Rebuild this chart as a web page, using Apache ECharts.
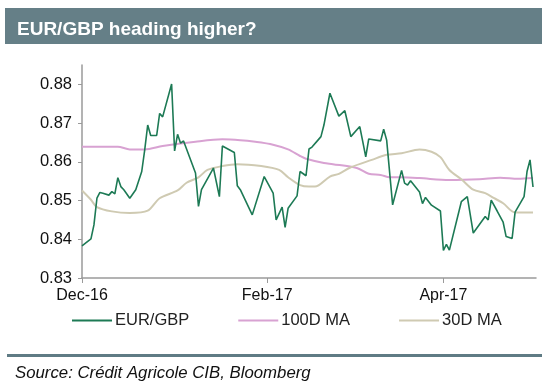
<!DOCTYPE html>
<html>
<head>
<meta charset="utf-8">
<script src="https://cdn.jsdelivr.net/npm/echarts@6/dist/echarts.min.js"></script>
<style>
html,body{margin:0;padding:0;background:#fff;}
#c{width:542px;height:389px;}
</style>
</head>
<body>
<div id="c"></div>
<script>
var titleText = 'EUR/GBP heading higher?';
var sourceText = 'Source: Crédit Agricole CIB, Bloomberg';
var seriesNames = ['EUR/GBP', '100D MA', '30D MA'];
var yTicks = [0.83, 0.84, 0.85, 0.86, 0.87, 0.88];
var xTickDates = ['2016-12-01', '2017-02-01', '2017-04-01'];
var xTickLabels = ['Dec-16', 'Feb-17', 'Apr-17'];

var eurgbpDates = ['2016-12-01','2016-12-04','2016-12-05','2016-12-06','2016-12-07','2016-12-08','2016-12-10','2016-12-11','2016-12-12','2016-12-13','2016-12-14','2016-12-15','2016-12-17','2016-12-19','2016-12-21','2016-12-22','2016-12-23','2016-12-24','2016-12-26','2016-12-27','2016-12-28','2016-12-31','2017-01-01','2017-01-02','2017-01-03','2017-01-04','2017-01-08','2017-01-09','2017-01-10','2017-01-14','2017-01-16','2017-01-17','2017-01-21','2017-01-22','2017-01-23','2017-01-27','2017-01-31','2017-02-03','2017-02-04','2017-02-06','2017-02-07','2017-02-08','2017-02-11','2017-02-12','2017-02-14','2017-02-15','2017-02-16','2017-02-18','2017-02-19','2017-02-20','2017-02-22','2017-02-25','2017-02-27','2017-03-01','2017-03-04','2017-03-05','2017-03-06','2017-03-07','2017-03-11','2017-03-12','2017-03-13','2017-03-15','2017-03-18','2017-03-19','2017-03-20','2017-03-21','2017-03-24','2017-03-25','2017-03-26','2017-03-28','2017-03-31','2017-04-01','2017-04-02','2017-04-03','2017-04-07','2017-04-09','2017-04-11','2017-04-15','2017-04-16','2017-04-17','2017-04-19','2017-04-21','2017-04-22','2017-04-24','2017-04-25','2017-04-28','2017-04-29','2017-04-30','2017-05-01'];
var eurgbpValues = [0.8383,0.8401,0.8437,0.8506,0.8521,0.8519,0.8514,0.8523,0.8517,0.8559,0.8536,0.8528,0.8506,0.8528,0.8575,0.8631,0.8695,0.8668,0.8668,0.8725,0.8716,0.8801,0.8628,0.8671,0.8648,0.8654,0.8571,0.8485,0.8528,0.8584,0.8510,0.8641,0.8624,0.8538,0.8528,0.8463,0.8562,0.8519,0.8450,0.8483,0.8431,0.8480,0.8512,0.8575,0.8564,0.8633,0.8638,0.8656,0.8665,0.8695,0.8777,0.8718,0.8732,0.8665,0.8691,0.8652,0.8613,0.8659,0.8654,0.8684,0.8656,0.8489,0.8578,0.8545,0.8540,0.8551,0.8522,0.8492,0.8508,0.8488,0.8473,0.8371,0.8387,0.8372,0.8497,0.8510,0.8416,0.8459,0.8450,0.8501,0.8473,0.8444,0.8407,0.8402,0.8470,0.8510,0.8575,0.8605,0.8535];

var ma100Dates = ['2016-12-01','2016-12-13','2016-12-17','2016-12-22','2016-12-28','2017-01-08','2017-01-17','2017-01-23','2017-01-28','2017-02-02','2017-02-08','2017-02-12','2017-02-14','2017-02-20','2017-02-23','2017-03-03','2017-03-07','2017-03-11','2017-03-14','2017-03-18','2017-03-24','2017-04-03','2017-04-13','2017-04-20','2017-04-26','2017-05-01'];
var ma100Values = [0.8639,0.8639,0.8632,0.8632,0.8641,0.8652,0.8658,0.8656,0.8652,0.8646,0.8632,0.8615,0.8608,0.8597,0.8594,0.8584,0.8569,0.8566,0.8560,0.8560,0.8558,0.8553,0.8555,0.8559,0.8556,0.8558];

var ma30Dates = ['2016-12-01','2016-12-04','2016-12-06','2016-12-11','2016-12-17','2016-12-23','2016-12-27','2017-01-02','2017-01-05','2017-01-09','2017-01-12','2017-01-17','2017-01-22','2017-01-30','2017-02-05','2017-02-08','2017-02-12','2017-02-15','2017-02-17','2017-02-22','2017-02-25','2017-03-01','2017-03-08','2017-03-13','2017-03-18','2017-03-24','2017-03-28','2017-03-31','2017-04-03','2017-04-07','2017-04-11','2017-04-15','2017-04-18','2017-04-21','2017-04-25','2017-05-01'];
var ma30Values = [0.8526,0.8502,0.8483,0.8472,0.8468,0.8474,0.8506,0.8526,0.8546,0.8560,0.8579,0.8589,0.8594,0.8589,0.8579,0.8560,0.8540,0.8536,0.8536,0.8562,0.8569,0.8586,0.8605,0.8618,0.8622,0.8632,0.8626,0.8612,0.8579,0.8555,0.8528,0.8519,0.8506,0.8493,0.8469,0.8469];

function toTs(s){ var p = s.split('-'); return Date.UTC(+p[0], +p[1]-1, +p[2]); }
function pairs(d, v){ return d.map(function(x,i){ return [toTs(x), v[i]]; }); }

var xTickTs = xTickDates.map(toTs);
var font = 'Liberation Sans, Arial, sans-serif';

var chart = echarts.init(document.getElementById('c'), null, {renderer:'canvas'});
chart.setOption({
  animation: false,
  backgroundColor: '#ffffff',
  title: {
    text: titleText, left: 17, top: 20, padding: 0,
    textStyle: {color:'#ffffff', fontSize:19, fontWeight:'bold', fontFamily:font}
  },
  graphic: [
    {type:'rect', z:-10, shape:{x:5, y:8, width:537, height:36}, style:{fill:'#657f87'}},
    {type:'rect', z:-10, shape:{x:7, y:354, width:535, height:3}, style:{fill:'#5f7b84'}},
    {type:'text', left:15, top:365, style:{text:sourceText, fill:'#111', font:'italic 16.8px ' + font}}
  ],
  legend: {
    left: 72, top: 312, padding: 0, itemWidth: 40, itemHeight: 2, itemGap: 49, icon: 'rect',
    textStyle: {fontSize:16.5, color:'#222', fontFamily:font, padding:[0,0,0,-2]},
    data: seriesNames
  },
  grid: {left:82, right:6, top:65, bottom:111, containLabel:false},
  xAxis: {
    type: 'value',
    min: toTs('2016-12-01'), max: toTs('2017-05-02'),
    axisLine: {show:true, lineStyle:{color:'#9a9a9a', width:1.5}},
    axisTick: {show:true, length:5, customValues: xTickTs, lineStyle:{color:'#9a9a9a'}},
    axisLabel: {
      customValues: xTickTs, margin: 10, color:'#111', fontSize:16, fontFamily:font,
      formatter: function(v){ var i = xTickTs.indexOf(v); return i >= 0 ? xTickLabels[i] : ''; }
    },
    splitLine: {show:false}
  },
  yAxis: {
    type: 'value', min: 0.83, max: 0.885,
    axisLine: {show:true, lineStyle:{color:'#9a9a9a', width:1.5}},
    axisTick: {show:true, length:4, customValues: yTicks, lineStyle:{color:'#9a9a9a'}},
    axisLabel: {
      customValues: yTicks, margin: 10, color:'#111', fontSize:16.5, fontFamily:font,
      formatter: function(v){ return v.toFixed(2); }
    },
    splitLine: {show:false}
  },
  series: [
    {name: seriesNames[0], type:'line', data: pairs(eurgbpDates, eurgbpValues), showSymbol:false, z:5,
     lineStyle:{color:'#1d7a55', width:1.6}, itemStyle:{color:'#1d7a55'}},
    {name: seriesNames[1], type:'line', data: pairs(ma100Dates, ma100Values), showSymbol:false, z:3, smooth:0.3,
     lineStyle:{color:'#d8a2d2', width:2}, itemStyle:{color:'#d8a2d2'}},
    {name: seriesNames[2], type:'line', data: pairs(ma30Dates, ma30Values), showSymbol:false, z:3, smooth:0.3,
     lineStyle:{color:'#cfcab2', width:2}, itemStyle:{color:'#cfcab2'}}
  ]
});
</script>
</body>
</html>
